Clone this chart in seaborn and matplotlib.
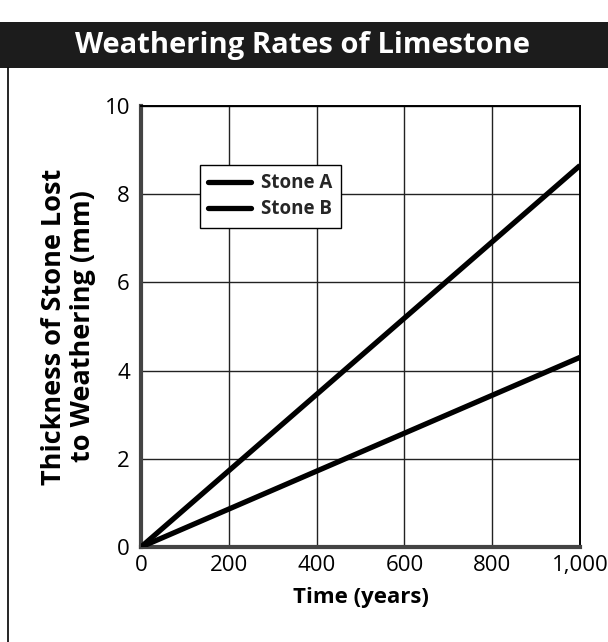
#!/usr/bin/env python3

import matplotlib
import pandas as pd
import seaborn as sns
from matplotlib import pyplot as plt
from matplotlib.lines import Line2D
from matplotlib.patches import Rectangle

# values
years = [0, 1000]
stone_a = [0.0, 8.65]
stone_b = [0.0, 4.3]
series_names = ["Stone A", "Stone B"]
x_ticks = [0, 200, 400, 600, 800, 1000]
x_tick_labels = ["0", "200", "400", "600", "800", "1,000"]
y_ticks = [0, 2, 4, 6, 8, 10]


def build_frame():
    rows = []
    for name, values in zip(series_names, [stone_a, stone_b]):
        for year, value in zip(years, values):
            rows.append((name, year, value))
    return pd.DataFrame(rows, columns=["stone", "years", "thickness"])


def main():
    sns.set_theme(style="white")
    plt.rcParams['font.family'] = ['Open Sans', 'DejaVu Sans']

    df = build_frame()

    fig = plt.figure(figsize=(6.08, 6.42), dpi=100)
    ax = fig.add_axes([0.232, 0.148, 0.722, 0.687])

    sns.lineplot(x="years", y="thickness", hue="stone", data=df, ax=ax,
                 palette=["black", "black"], linewidth=3.8,
                 solid_capstyle="butt", legend=False, zorder=3)

    ax.set_xlim(0, 1000)
    ax.set_ylim(0, 10)
    ax.set_xticks(x_ticks)
    ax.set_xticklabels(x_tick_labels)
    ax.set_yticks(y_ticks)
    ax.tick_params(axis="both", labelsize=16, colors="black", length=0)
    ax.tick_params(axis="x", pad=6)
    ax.tick_params(axis="y", pad=8)
    ax.grid(True, color="#222222", linewidth=1.0)

    ax.set_xlabel("Time (years)", fontsize=16, fontweight="bold",
                  color="black", labelpad=8)
    ax.set_ylabel("Thickness of Stone Lost\nto Weathering (mm)",
                  fontsize=19.5, fontweight="bold", color="black",
                  labelpad=6, linespacing=1.15)

    ax.spines["left"].set_linewidth(3.0)
    ax.spines["left"].set_color("#444444")
    ax.spines["bottom"].set_linewidth(3.0)
    ax.spines["bottom"].set_color("#444444")
    for side in ["top", "right"]:
        ax.spines[side].set_linewidth(1.4)
        ax.spines[side].set_color("black")

    handles = [Line2D([], [], color="black", linewidth=3.8) for _ in series_names]
    leg = ax.legend(handles, series_names, loc="upper left",
                    bbox_to_anchor=(0.134, 0.866), borderaxespad=0,
                    frameon=True, fancybox=False, handlelength=2.3,
                    handletextpad=0.5, borderpad=0.45, labelspacing=0.3,
                    prop={"weight": "bold", "size": 13.5})
    leg.get_frame().set_edgecolor("black")
    leg.get_frame().set_linewidth(1.0)
    leg.get_frame().set_alpha(1.0)

    # dark title band
    fig.patches.append(Rectangle((0.0, 0.894), 1.0, 0.072,
                                 transform=fig.transFigure,
                                 facecolor="#1c1c1c", edgecolor="none"))
    fig.text(0.497, 0.929, "Weathering Rates of Limestone", color="white",
             fontsize=21, fontweight="bold", ha="center", va="center")

    # left frame line
    fig.add_artist(Line2D([0.013, 0.013], [0.0, 0.894],
                          transform=fig.transFigure, color="black",
                          linewidth=1.2))

    fig.savefig("out.png", dpi=100)


if __name__ == "__main__":
    main()
